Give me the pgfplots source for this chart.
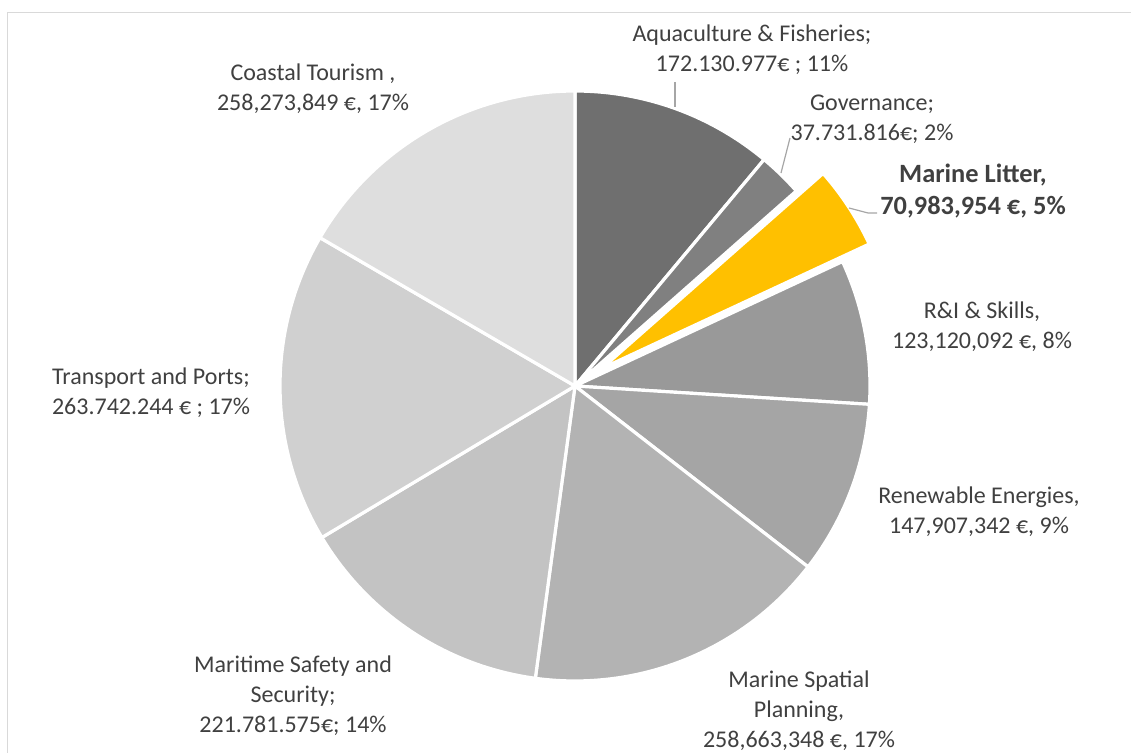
\documentclass[border=0pt]{standalone}
\usepackage{pgfplots}
\pgfplotsset{compat=1.18}
\usepackage{pgfplotstable}
\usepackage{fontspec}
\setmainfont{Carlito}

\definecolor{s0}{HTML}{6F6F6F}
\definecolor{s1}{HTML}{808080}
\definecolor{s2}{HTML}{FFC000}
\definecolor{s3}{HTML}{999999}
\definecolor{s4}{HTML}{A5A5A5}
\definecolor{s5}{HTML}{B3B3B3}
\definecolor{s6}{HTML}{C3C3C3}
\definecolor{s7}{HTML}{D0D0D0}
\definecolor{s8}{HTML}{DEDEDE}
\definecolor{txt}{HTML}{404040}
\definecolor{lead}{HTML}{A6A6A6}
\definecolor{frame}{HTML}{D9D9D9}

\tikzset{lbl/.style={text=txt, align=center, font=\fontsize{12}{15}\selectfont, inner sep=0pt}}

% budget per sector (EUR), clockwise from 12 o'clock; explode in px
\pgfplotstableread{
value explode
172130977 0
37731816 0
70983954 32
123120092 0
147907342 0
258663348 0
221781575 0
263742244 0
258273849 0
}\piedata

\newcommand\fpuset[2]{\begingroup\pgfkeys{/pgf/fpu=true,/pgf/fpu/output format=fixed}\pgfmathparse{#2}\xdef#1{\pgfmathresult}\endgroup}

% pie geometry (px, y down)
\def\pcx{575}\def\pcy{386}\def\prad{295}

\fpuset\total{0}%
\pgfplotsforeachungrouped \i in {0,...,8}{%
  \pgfplotstablegetelem{\i}{value}\of\piedata
  \fpuset\total{\total+\pgfplotsretval}}%
\fpuset\cum{0}%
\pgfplotsforeachungrouped \i in {0,...,8}{%
  \pgfplotstablegetelem{\i}{value}\of\piedata \let\myval\pgfplotsretval
  \pgfplotstablegetelem{\i}{explode}\of\piedata \let\myexp\pgfplotsretval
  \fpuset\angA{90-360*\cum/\total}%
  \fpuset\cum{\cum+\myval}%
  \fpuset\angB{90-360*\cum/\total}%
  \fpuset\angM{(\angA+\angB)/2}%
  \expandafter\xdef\csname aS\i\endcsname{\angA}%
  \expandafter\xdef\csname aE\i\endcsname{\angB}%
  \fpuset\tmp{\pcx+\myexp*cos(\angM)}%
  \expandafter\xdef\csname cx\i\endcsname{\tmp}%
  \fpuset\tmp{\pcy-\myexp*sin(\angM)}%
  \expandafter\xdef\csname cy\i\endcsname{\tmp}%
}%

\begin{document}
\begin{tikzpicture}
\begin{axis}[
    scale only axis,
    width=565.5pt, height=376.5pt,
    xmin=0, xmax=1131,
    ymin=0, ymax=753,
    y dir=reverse,
    hide axis,
    clip=false,
]
% chart frame
\addplot[draw=frame, line width=0.6pt, mark=none] coordinates {(7.5,800) (7.5,12.5) (1200,12.5)};

% slices
\pgfplotsinvokeforeach{0,...,8}{%
  \addplot[fill=s#1, draw=white, line width=1.6pt, mark=none,
      domain=\csname aE#1\endcsname:\csname aS#1\endcsname, samples=61, variable=\t]
    ({\csname cx#1\endcsname+\prad*cos(\t)}, {\csname cy#1\endcsname-\prad*sin(\t)})
    -- (\csname cx#1\endcsname,\csname cy#1\endcsname) -- cycle;
}

% leader lines
\addplot[draw=lead, line width=0.6pt, mark=none] coordinates {(675,82) (675,107)};
\addplot[draw=lead, line width=0.6pt, mark=none] coordinates {(790,138) (781,173)};
\addplot[draw=lead, line width=0.6pt, mark=none] coordinates {(849,208) (868,213) (877,213)};

% data labels
\node[lbl] at (axis cs:752,50) {Aquaculture \& Fisheries;\\172.130.977€ ; 11\%};
\node[lbl] at (axis cs:872,119) {Governance;\\37.731.816€; 2\%};
\node[lbl, font=\fontsize{13.2}{16}\selectfont\bfseries] at (axis cs:973,191) {Marine Litter,\\70,983,954 €, 5\%};
\node[lbl] at (axis cs:982,327) {R\&I \& Skills,\\123,120,092 €, 8\%};
\node[lbl] at (axis cs:979,512) {Renewable Energies,\\147,907,342 €, 9\%};
\node[lbl] at (axis cs:799,711) {Marine Spatial\\Planning,\\258,663,348 €, 17\%};
\node[lbl] at (axis cs:293,696) {Maritime Safety and\\Security;\\221.781.575€; 14\%};
\node[lbl] at (axis cs:151,393) {Transport and Ports;\\263.742.244 € ; 17\%};
\node[lbl] at (axis cs:313,89) {Coastal Tourism ,\\258,273,849 €, 17\%};
\end{axis}
\pgfresetboundingbox
\path (current axis.south west) rectangle (current axis.north east);
\end{tikzpicture}
\end{document}
